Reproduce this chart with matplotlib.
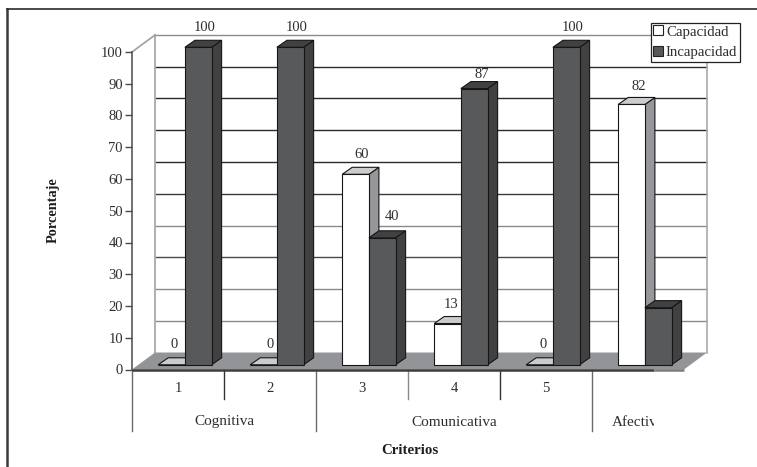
import matplotlib
matplotlib.use("Agg")
import matplotlib.pyplot as plt
from matplotlib.lines import Line2D
from matplotlib.patches import Patch, Polygon
from matplotlib.transforms import Bbox

# Survey results per criterion
criteria = ["1", "2", "3", "4", "5", ""]
capacidad = [0, 0, 60, 13, 0, 82]
incapacidad = [100, 100, 40, 87, 100, 18]
groups = ["Cognitiva", "Comunicativa", "Afectiv"]
y_ticks = list(range(0, 101, 10))
series_names = ["Capacidad", "Incapacidad"]

W, H = 757, 467
plt.rcParams["font.family"] = ["Liberation Serif", "DejaVu Serif"]
TEXT = "#2e2e2e"

fig = plt.figure(figsize=(W / 100, H / 100), dpi=100, facecolor="white")

# Plot area in pixels
LEFT, RIGHT, TOP, BOTTOM = 132.0, 684.0, 52.0, 369.5
ax = fig.add_axes([LEFT / W, 1 - BOTTOM / H, (RIGHT - LEFT) / W, (BOTTOM - TOP) / H])
ax.set_xlim(0, len(criteria))
ax.set_ylim(0, 100)
ax.patch.set_alpha(0)

PX_X = len(criteria) / (RIGHT - LEFT)   # data units per pixel, horizontal
PX_Y = 100 / (BOTTOM - TOP)             # data units per pixel, vertical


def dx(px):
    return px * PX_X


def dy(px):
    return px * PX_Y


# Back wall and gridlines
WALL_X, WALL_Y = dx(23), dy(17)
n = len(criteria)
wall_colors = {10: "#8a8a8a", 20: "#8a8a8a", 30: "#4a4a4a", 40: "#8a8a8a",
               50: "#3a3a3a", 60: "#2a2a2a", 70: "#2a2a2a", 80: "#2a2a2a", 90: "#2a2a2a",
               100: "#8c8c8c"}
for v in y_ticks[1:]:
    ax.plot([WALL_X, n + WALL_X], [v + WALL_Y] * 2, color=wall_colors[v], lw=1.0,
            clip_on=False, zorder=1, solid_capstyle="butt")
ax.plot([WALL_X, WALL_X], [WALL_Y, 100 + WALL_Y], color="#a7a9ac", lw=1.3, clip_on=False, zorder=1.2)
ax.plot([n + WALL_X, n + WALL_X], [WALL_Y, 100 + WALL_Y], color="#a7a9ac", lw=1.2,
        clip_on=False, zorder=1.2)
ax.plot([0, WALL_X], [100, 100 + WALL_Y], color="#a0a0a0", lw=1.2, clip_on=False, zorder=1.2)

# Floor
ax.add_patch(Polygon([(0, 0), (WALL_X, WALL_Y), (n + WALL_X, WALL_Y), (n, 0)],
                     closed=True, fc="#929497", ec="none", clip_on=False, zorder=2))

# Column geometry
BAR_W = 26.7 * PX_X
BAR_START = 26.2 * PX_X
LIFT = dy(4.7)
DEPTH_X, DEPTH_Y = dx(10), dy(7)
EDGE = "#161616"


def column(x0, value, front, side, top, z):
    y0, y1 = LIFT, value + LIFT
    x1 = x0 + BAR_W
    ax.add_patch(Polygon([(x1, y0), (x1 + DEPTH_X, y0 + DEPTH_Y), (x1 + DEPTH_X, y1 + DEPTH_Y), (x1, y1)],
                         closed=True, fc=side, ec=EDGE, lw=0.8, clip_on=False, zorder=z))
    ax.add_patch(Polygon([(x0, y1), (x0 + DEPTH_X, y1 + DEPTH_Y), (x1 + DEPTH_X, y1 + DEPTH_Y), (x1, y1)],
                         closed=True, fc=top, ec=EDGE, lw=0.8, clip_on=False, zorder=z))
    ax.add_patch(Polygon([(x0, y0), (x1, y0), (x1, y1), (x0, y1)],
                         closed=True, fc=front, ec=EDGE, lw=0.8, clip_on=False, zorder=z + 0.1))


# Value labels float above each column; a few sit slightly off the default spot
LABEL_SHIFT_X, LABEL_SHIFT_Y = 19.5, 20
nudges = {(3, 1): (1, -6), (0, 0): (-4, 0), (4, 0): (-3, 0), (5, 0): (1, -2),
          (2, 1): (4, 1), (3, 0): (-3, -1)}

for i, (a, b) in enumerate(zip(capacidad, incapacidad)):
    xa = i + BAR_START
    xb = xa + BAR_W
    column(xa, a, "#ffffff", "#97979b", "#cbcccd", 3 + i * 0.5)
    column(xb, b, "#58595b", "#414141", "#414141", 3.2 + i * 0.5)
    shown = [(0, xa, a)]
    if i != len(criteria) - 1:
        shown.append((1, xb, b))
    for s, x, v in shown:
        nx, ny = nudges.get((i, s), (0, 0))
        ax.text(x + dx(LABEL_SHIFT_X + nx), v + LIFT + dy(LABEL_SHIFT_Y + ny), str(v),
                ha="center", va="center", fontsize=10.5, color=TEXT, zorder=20, clip_on=False)

# Axes furniture
for name in ("top", "right", "bottom"):
    ax.spines[name].set_visible(False)
ax.spines["left"].set_color("#4a4a4a")
ax.spines["left"].set_linewidth(1.1)
ax.set_yticks(y_ticks)
ax.tick_params(axis="y", length=5, width=1, color="#4a4a4a", pad=1.5, labelsize=10.5, labelcolor=TEXT)
ax.set_xticks([])

# Baseline: dark under the labelled span, lighter past it
BASE_END = dx(654 - LEFT)
ax.plot([0, BASE_END], [0, 0], color="#3c3c3c", lw=1.8, clip_on=False, zorder=2.5, solid_capstyle="butt")
ax.plot([BASE_END, n], [0, 0], color="#7b7c7e", lw=1.8, clip_on=False, zorder=2.5, solid_capstyle="butt")

# Two-level category axis
SHORT, LONG = -dy(29.5), -dy(61.5)
for b in (1, 4):
    ax.plot([b, b], [0, SHORT], color="#333333", lw=1.0, clip_on=False)
ax.plot([3, 3], [0, SHORT], color="#8a8a8a", lw=1.0, clip_on=False)
for b in (0, 2, 5):
    ax.plot([b, b], [0, LONG], color="#6a6a6a", lw=1.0, clip_on=False)

for i, c in enumerate(criteria):
    ax.text(i + 0.5, -dy(19.5), c, ha="center", va="center", fontsize=10.5, color=TEXT)

GROUP_Y = -dy(52.5)
ax.text(1, GROUP_Y, groups[0], ha="center", va="center", fontsize=11, color=TEXT)
ax.text(3.5, GROUP_Y, groups[1], ha="center", va="center", fontsize=11, color=TEXT)
clip = Bbox([[0, 0], [654, H]])
cut = ax.text(5 + dx(19.7), GROUP_Y, groups[2], ha="left", va="center", fontsize=11, color=TEXT)
cut.set_clip_box(clip)
cut.set_clip_on(True)

# Axis titles
fig.text(53.5 / W, 1 - 210.5 / H, "Porcentaje", rotation=90, ha="center", va="center",
         fontsize=10.3, fontweight="bold", color="#1e1e1e")
fig.text(409.5 / W, 1 - 450 / H, "Criterios", ha="center", va="center",
         fontsize=10.7, fontweight="bold", color="#1e1e1e")

# Outer frame: left and top edges only
fig.add_artist(Line2D([6.5 / W, 6.5 / W], [0, 1 - 8.5 / H], color="#3a3a3a", lw=1.8))
fig.add_artist(Line2D([6.5 / W, 1], [1 - 8.5 / H, 1 - 8.5 / H], color="#2a2a2a", lw=1.2))

# Legend
handles = [Patch(fc="#ffffff", ec="#222222", lw=0.8), Patch(fc="#58595b", ec="#222222", lw=0.8)]
leg = fig.legend(handles, series_names, loc="upper left",
                 bbox_to_anchor=(650.5 / W, 1 - 22.5 / H), bbox_transform=fig.transFigure,
                 fontsize=10.7, frameon=True, fancybox=False, framealpha=1, edgecolor="#222222",
                 borderpad=0.2, borderaxespad=0, handlelength=0.62, handleheight=0.62,
                 handletextpad=0.22, labelspacing=0.5, labelcolor=TEXT)
leg.get_frame().set_linewidth(0.9)

fig.savefig("out.png", dpi=100, facecolor="white")
